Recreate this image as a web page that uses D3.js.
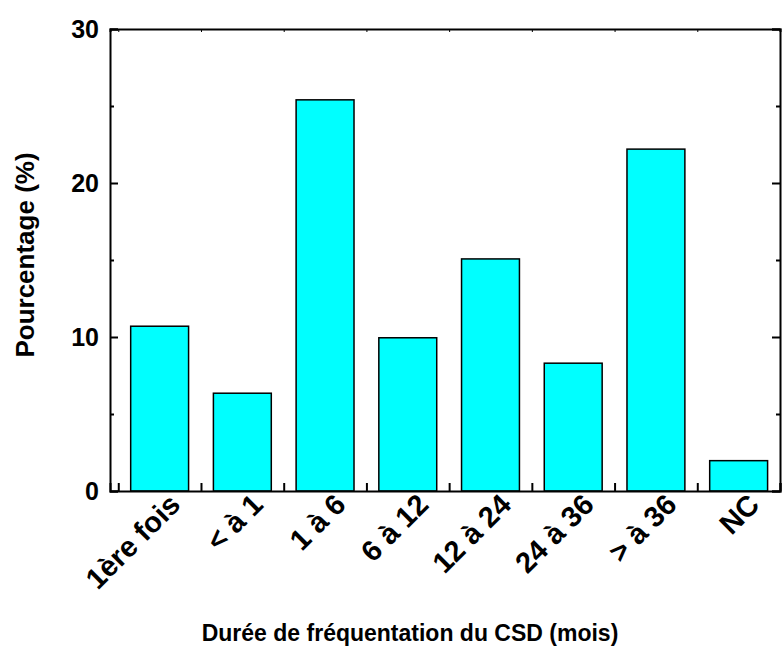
<html>
<head>
<style>
  body { margin: 0; background: #fff; }
  text { font-family: Arial, "Liberation Sans", sans-serif; font-weight: bold; fill: #000; }
</style>
<script src="https://d3js.org/d3.v7.min.js"></script>
</head>
<body>
<svg id="chart" width="782" height="646"></svg>
<script>
const categories = ["1ère fois", "< à 1", "1 à 6", "6 à 12", "12 à 24", "24 à 36", "> à 36", "NC"];
const values = [10.7, 6.35, 25.4, 9.95, 15.07, 8.3, 22.2, 1.97];
const yMajorTicks = [0, 10, 20, 30];
const yMinorTicks = [5, 15, 25];

const plotLeft = 110, plotRight = 780, plotTop = 29, plotBottom = 491;
const svg = d3.select('#chart');

// bars sit at 1..8, frame runs from 0.4 to 8.5 (Origin style)
const x = d3.scaleLinear().domain([0.4, 8.5]).range([plotLeft, plotRight]);
const y = d3.scaleLinear().domain([0, 30]).range([plotBottom, plotTop]);
const barW = (x(1) - x(0)) * 0.7;

// bars
svg.selectAll('rect.bar')
  .data(values)
  .enter()
  .append('rect')
  .attr('class', 'bar')
  .attr('x', (d, i) => x(i + 1) - barW / 2)
  .attr('y', d => y(d))
  .attr('width', barW)
  .attr('height', d => y(0) - y(d))
  .style('fill', '#00ffff')
  .style('stroke', '#000')
  .style('stroke-width', 1.5);

// left axis, ticks pointing inside
const yAxis = d3.axisRight(y).tickValues(yMajorTicks).tickSize(8).tickFormat('');
svg.append('g').attr('transform', `translate(${plotLeft},0)`).call(yAxis)
  .call(g => g.select('.domain').attr('stroke-width', 2))
  .call(g => g.selectAll('.tick line').attr('stroke-width', 2));
svg.append('g').attr('transform', `translate(${plotLeft},0)`)
  .call(d3.axisRight(y).tickValues(yMinorTicks).tickSize(4).tickFormat(''))
  .call(g => g.select('.domain').remove())
  .call(g => g.selectAll('.tick line').attr('stroke-width', 2));

// left tick labels
svg.selectAll('text.ylab')
  .data(yMajorTicks)
  .enter()
  .append('text')
  .attr('class', 'ylab')
  .attr('x', plotLeft - 11)
  .attr('y', d => y(d))
  .attr('dy', '0.36em')
  .attr('text-anchor', 'end')
  .style('font-size', '25px')
  .text(d => d);

// right axis
svg.append('g').attr('transform', `translate(${plotRight},0)`)
  .call(d3.axisLeft(y).tickValues(yMajorTicks).tickSize(8).tickFormat(''))
  .call(g => g.select('.domain').attr('stroke-width', 2))
  .call(g => g.selectAll('.tick line').attr('stroke-width', 2));
svg.append('g').attr('transform', `translate(${plotRight},0)`)
  .call(d3.axisLeft(y).tickValues(yMinorTicks).tickSize(4).tickFormat(''))
  .call(g => g.select('.domain').remove())
  .call(g => g.selectAll('.tick line').attr('stroke-width', 2));

// bottom axis, ticks between bars pointing up
const xBounds = d3.range(0.5, 9, 1);
svg.append('g').attr('transform', `translate(0,${plotBottom})`)
  .call(d3.axisTop(x).tickValues(xBounds).tickSize(8).tickFormat(''))
  .call(g => g.select('.domain').attr('stroke-width', 2))
  .call(g => g.selectAll('.tick line').attr('stroke-width', 2));

// top axis
svg.append('g').attr('transform', `translate(0,${plotTop})`)
  .call(d3.axisBottom(x).tickValues(xBounds).tickSize(3).tickFormat(''))
  .call(g => g.select('.domain').attr('stroke-width', 2))
  .call(g => g.selectAll('.tick line').attr('stroke-width', 1));

// category labels, rotated
svg.selectAll('text.xlab')
  .data(categories)
  .enter()
  .append('text')
  .attr('class', 'xlab')
  .attr('transform', (d, i) => `translate(${x(i + 1) + 8},${plotBottom + 1}) rotate(-45)`)
  .attr('text-anchor', 'end')
  .attr('dy', '0.7em')
  .style('font-size', '29px')
  .text(d => d);

// axis titles
svg.append('text')
  .attr('transform', `translate(${(plotLeft + plotRight) / 2 - 35},641)`)
  .attr('text-anchor', 'middle')
  .style('font-size', '23px')
  .text('Durée de fréquentation du CSD (mois)');

svg.append('text')
  .attr('transform', `translate(34,${(plotTop + plotBottom) / 2 - 5}) rotate(-90)`)
  .attr('text-anchor', 'middle')
  .style('font-size', '26px')
  .text('Pourcentage (%)');
</script>
</body>
</html>
